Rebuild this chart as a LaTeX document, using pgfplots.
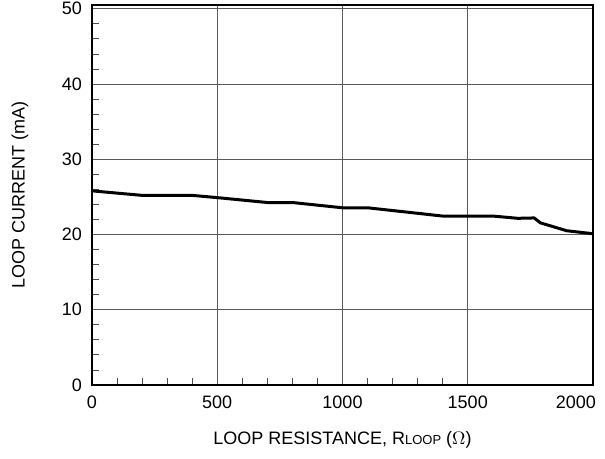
\documentclass[border=0pt]{standalone}
\usepackage{fontspec}
\setmainfont{Liberation Sans}
\usepackage{pgfplots}
\pgfplotsset{compat=1.18}
\begin{document}
\begin{tikzpicture}
\useasboundingbox (-46pt,-37pt) rectangle (256.5pt,192.5pt);
\begin{axis}[
  at={(0,0)}, anchor=south west,
  scale only axis,
  width=250.5pt, height=190pt,
  xmin=0, xmax=2000,
  ymin=0, ymax=50.5,
  xtick={0,500,1000,1500},
  extra x ticks={2000},
  extra x tick labels={2000},
  extra x tick style={grid=none, major tick length=0pt,
    xticklabel style={anchor=north east, xshift=5pt}},
  ytick={0,10,20,30,40,50},
  minor x tick num=4,
  minor y tick num=4,
  tick pos=left,
  tick align=inside,
  major tick length=0pt,
  minor tick length=3.5pt,
  grid=major,
  major grid style={black!65, line width=0.5pt},
  minor tick style={black!70, line width=0.4pt},
  axis line style={line width=1.4pt},
  font=\fontsize{9}{10.5}\selectfont,
  /pgf/number format/assume math mode=true,
  /pgf/number format/1000 sep={},
  xticklabel style={yshift=-2pt},
  yticklabel style={xshift=-1.5pt},
  xlabel={LOOP RESISTANCE, R{\fontsize{6.5}{7}\selectfont LOOP} ($\Omega$)},
  ylabel={LOOP CURRENT (mA)},
  every axis x label/.style={at={(rel axis cs:0.5,0)}, yshift=-27.5pt, anchor=center},
  every axis y label/.style={at={(rel axis cs:0,0.5)}, xshift=-36pt, rotate=90, anchor=center},
]
\addplot[black, line width=1.5pt, line join=round] coordinates {
  (0,25.8) (200,25.2) (400,25.2) (500,24.9) (700,24.25) (800,24.25)
  (1000,23.55) (1100,23.55) (1400,22.45) (1600,22.45) (1700,22.15)
  (1765,22.2) (1790,21.55) (1895,20.5) (2000,20.1)
};
\end{axis}
\end{tikzpicture}
\end{document}
